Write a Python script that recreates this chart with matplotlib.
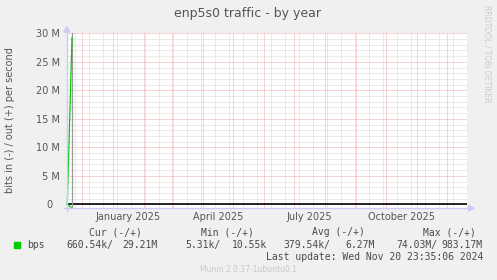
import matplotlib
matplotlib.use('Agg')
import matplotlib.pyplot as plt
from matplotlib.lines import Line2D
from matplotlib.patches import Polygon, Rectangle
import pandas as pd
import numpy as np

W, H = 497, 280

# ---------------- data ----------------
times = pd.to_datetime(['2024-11-16 00:00', '2024-11-20 16:00'])
out_bps = [10.55e3, 29.21e6]
in_bps = [5.31e3, 660.54e3]
last_update = pd.Timestamp('2024-11-20 23:35:06')

x_start = pd.Timestamp('2024-11-15 16:48')
x_end = pd.Timestamp('2025-12-20 16:48')
y_min, y_max = -0.68e6, 30e6

y_major = [0, 5e6, 10e6, 15e6, 20e6, 25e6, 30e6]
y_labels = ['0  ', '5 M', '10 M', '15 M', '20 M', '25 M', '30 M']
y_minor = [v * 1e6 for v in range(1, 30) if v % 5 != 0]

x_label_dates = pd.to_datetime(['2025-01-16', '2025-04-16', '2025-07-16', '2025-10-16'])
x_labels = ['January 2025', 'April 2025', 'July 2025', 'October 2025']
month_lines = pd.date_range('2024-12-01', '2025-12-01', freq='MS')
biweek_lines = pd.date_range('2024-11-24', x_end, freq='14D')

legend_heads = ['Cur (-/+)', 'Min (-/+)', 'Avg (-/+)', 'Max (-/+)']
legend_vals = [('660.54k/', '29.21M'), ('5.31k/', '10.55k'),
               ('379.54k/', '6.27M'), ('74.03M/', '983.17M')]

# ---------------- layout helpers ----------------
def fx(x):
    return x / W

def fy(y):
    return 1 - y / H

TXT = '#555555'
LEG = '#4a4a4a'
SANS = 'DejaVu Sans'
MONO = 'DejaVu Sans Mono'

fig = plt.figure(figsize=(W / 100, H / 100), dpi=100, facecolor='#f0f0f0')

L, R, T, B = 67, 467, 33.3, 208.2
ax = fig.add_axes([fx(L), fy(B), (R - L) / W, (B - T) / H])
ax.set_facecolor('white')
for s in ax.spines.values():
    s.set_visible(False)
ax.set_xlim(x_start, x_end)
ax.set_ylim(y_min, y_max)

# grid
grid_dash = (0, (1, 1))
MINOR_C = '#d6d6d6'
MAJOR_C = '#f4aaaa'
for d in biweek_lines:
    ax.axvline(d, color=MINOR_C, lw=0.72, ls=grid_dash, zorder=1)
for v in y_minor:
    ax.axhline(v, color=MINOR_C, lw=0.72, ls=grid_dash, zorder=1)
for d in month_lines:
    ax.axvline(d, color=MAJOR_C, lw=0.72, ls=grid_dash, zorder=2)
for v in y_major:
    ax.axhline(v, color=MAJOR_C, lw=0.72, ls=grid_dash, zorder=2)

# zero line
ax.axhline(0, color='black', lw=1.2, zorder=3)

# data
ax.plot(times, out_bps, color='#00cc00', lw=0.9, zorder=5, clip_on=False)
ax.plot(times, [-v for v in in_bps], color='#00cc00', lw=0.9, zorder=5, clip_on=False)

# last update rule
ax.axvline(last_update, color='#999999', lw=0.9, zorder=4)

# ticks
ax.set_yticks(y_major)
ax.set_yticklabels(y_labels, fontsize=7, color=TXT, family=SANS)
ax.set_xticks(x_label_dates)
ax.set_xticklabels(x_labels, fontsize=7, color=TXT, family=SANS)
ax.tick_params(axis='y', length=0, pad=5.3)
ax.tick_params(axis='x', length=0, pad=3.0)

# axes lines with arrows
AX_C = '#c8ccf6'
fig.add_artist(Line2D([fx(66.7), fx(66.7)], [fy(210.5), fy(30)], color=AX_C, lw=1.0,
                      transform=fig.transFigure))
fig.add_artist(Line2D([fx(64), fx(470)], [fy(208.2), fy(208.2)], color=AX_C, lw=1.0,
                      transform=fig.transFigure))
fig.add_artist(Polygon([[fx(63.8), fy(32)], [fx(69.8), fy(32)], [fx(66.8), fy(26.8)]],
                       closed=True, color=AX_C, transform=fig.transFigure))
fig.add_artist(Polygon([[fx(468.5), fy(205.2)], [fx(468.5), fy(211.2)], [fx(474), fy(208.2)]],
                       closed=True, color=AX_C, transform=fig.transFigure))

# texts
fig.text(fx(248), fy(14), 'enp5s0 traffic - by year', fontsize=9, color=TXT,
         family=SANS, ha='center', va='center')
fig.text(fx(10), fy(120), 'bits in (-) / out (+) per second', fontsize=7, color=TXT,
         family=SANS, rotation=90, ha='center', va='center')
fig.text(fx(487.5), fy(5), 'RRDTOOL / TOBI OETIKER', fontsize=5.5, color='#cccccc',
         family=SANS, rotation=270, ha='center', va='top')

head_x = [89, 201, 312, 423]
for x, t in zip(head_x, legend_heads):
    fig.text(fx(x), fy(232.3), t, fontsize=7, color=LEG, family=MONO, ha='left', va='center')

fig.add_artist(Rectangle((fx(14), fy(247.8)), 6 / W, 5.6 / H, color='#00cc00',
                         transform=fig.transFigure))
fig.text(fx(27), fy(245), 'bps', fontsize=7, color=LEG, family=MONO, ha='left', va='center')

val_pos = [(66, 157.7), (185.7, 266.7), (283.3, 375), (396.7, 482.7)]
for (a, b), (xa, xb) in zip(legend_vals, val_pos):
    fig.text(fx(xa), fy(245), a, fontsize=7, color=LEG, family=MONO, ha='left', va='center')
    fig.text(fx(xb), fy(245), b, fontsize=7, color=LEG, family=MONO, ha='right', va='center')

fig.text(fx(483), fy(256.7), 'Last update: Wed Nov 20 23:35:06 2024', fontsize=7, color=LEG,
         family=MONO, ha='right', va='center')
fig.text(fx(248), fy(269), 'Munin 2.0.37-1ubuntu0.1', fontsize=5.5, color='#c8c8c8',
         family=SANS, ha='center', va='center')

fig.savefig('out.png', dpi=100, facecolor=fig.get_facecolor())
